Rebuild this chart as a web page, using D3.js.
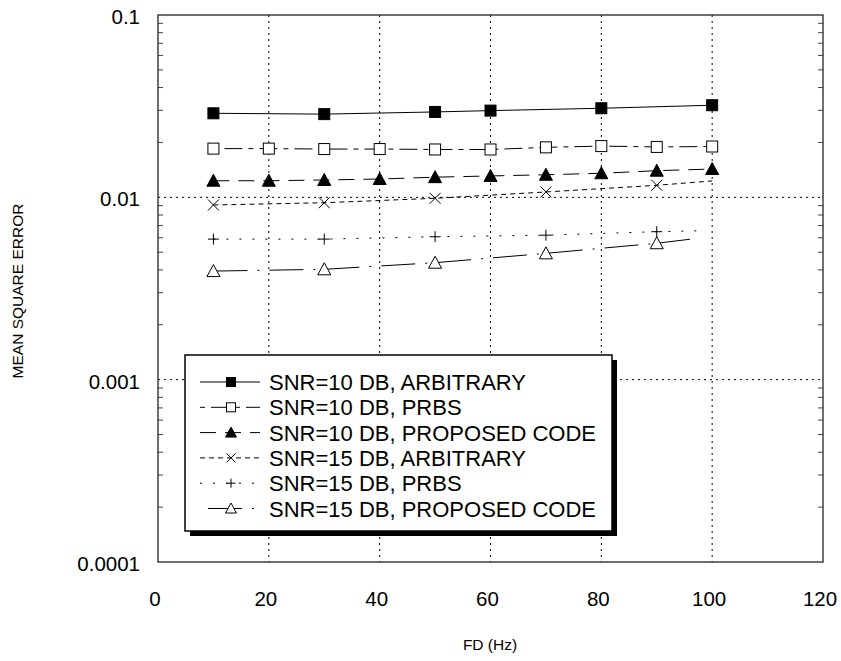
<!DOCTYPE html>
<html>
<head>
<meta charset="utf-8">
<script src="https://cdn.jsdelivr.net/npm/d3@7"></script>
<style>
  body { margin: 0; background: #fff; }
  text { font-family: "Liberation Sans", Arial, sans-serif; fill: #000; }
</style>
</head>
<body>
<svg id="canvas" width="841" height="661"></svg>
<script>
// values
let xTicks = [0, 20, 40, 60, 80, 100, 120];
let yTicks = [0.1, 0.01, 0.001, 0.0001];
let yTickLabels = ['0.1', '0.01', '0.001', '0.0001'];

let names = ['SNR=10 DB, ARBITRARY', 'SNR=10 DB, PRBS', 'SNR=10 DB, PROPOSED CODE',
             'SNR=15 DB, ARBITRARY', 'SNR=15 DB, PRBS', 'SNR=15 DB, PROPOSED CODE'];

let s1x = [10, 30, 50, 60, 80, 100];
let s1y = [0.0289, 0.0286, 0.0294, 0.0299, 0.0308, 0.0320];
let s2x = [10, 20, 30, 40, 50, 60, 70, 80, 90, 100];
let s2y = [0.0185, 0.0185, 0.0184, 0.0184, 0.0183, 0.0183, 0.0188, 0.0191, 0.0189, 0.0190];
let s3x = [10, 20, 30, 40, 50, 60, 70, 80, 90, 100];
let s3y = [0.01233, 0.01233, 0.01245, 0.0126, 0.0129, 0.0131, 0.0133, 0.01355, 0.0140, 0.0143];
let s4x = [10, 30, 50, 70, 90, 100];
let s4y = [0.00908, 0.00934, 0.00988, 0.0107, 0.01164, 0.0123];
let s5x = [10, 30, 50, 70, 90, 98];
let s5y = [0.0059, 0.0059, 0.00608, 0.0062, 0.00648, 0.00656];
let s6x = [10, 30, 50, 70, 90, 96];
let s6y = [0.00394, 0.00403, 0.00438, 0.00493, 0.0056, 0.00589];
// points that carry a marker (last points of the 15 dB curves have none)
let marked = [s1x, s2x, s3x, [10, 30, 50, 70, 90], [10, 30, 50, 70, 90], [10, 30, 50, 70, 90]];

let xs = [s1x, s2x, s3x, s4x, s5x, s6x];
let ys = [s1y, s2y, s3y, s4y, s5y, s6y];
let dashes = ['none', '5,6,18,6', '16,9', '5,4', '2,11', '34,10,2,10'];
let legendOffset = [0, 0, 0, 0, 0, 48];
let shapes = ['squareF', 'squareO', 'triF', 'cross', 'plus', 'triO'];

let canvas = d3.select('#canvas');
let L = 158, R = 823, T = 15, B = 562;

let x = d3.scaleLinear().domain([0, 120]).range([L, R]);
let y = d3.scaleLog().domain([0.0001, 0.1]).range([B, T]);

// grid
canvas.append('g').selectAll('line')
  .data(xTicks.slice(1, -1))
  .enter().append('line')
  .attr('x1', d => x(d)).attr('x2', d => x(d))
  .attr('y1', T).attr('y2', B)
  .attr('stroke', '#000').attr('stroke-width', 1).attr('stroke-dasharray', '2,4');
canvas.append('g').selectAll('line')
  .data([0.01, 0.001])
  .enter().append('line')
  .attr('x1', L).attr('x2', R)
  .attr('y1', d => y(d)).attr('y2', d => y(d))
  .attr('stroke', '#000').attr('stroke-width', 1).attr('stroke-dasharray', '2,4');

// minor ticks, inward on both sides
let minor = [];
[0.0001, 0.001, 0.01].forEach(d => { for (let k = 2; k <= 9; k++) minor.push(d * k); });
[L, R].forEach(side => {
  let dir = side === L ? 1 : -1;
  canvas.append('g').selectAll('line')
    .data(minor)
    .enter().append('line')
    .attr('x1', side).attr('x2', side + dir * 5)
    .attr('y1', d => y(d)).attr('y2', d => y(d))
    .attr('stroke', '#444').attr('stroke-width', 1);
});

// frame
canvas.append('rect')
  .attr('x', L).attr('y', T).attr('width', R - L).attr('height', B - T)
  .attr('fill', 'none').attr('stroke', '#222').attr('stroke-width', 1.3);

// tick labels
canvas.append('g').selectAll('text')
  .data(yTicks)
  .enter().append('text')
  .attr('x', L - 18).attr('y', d => y(d) + 9)
  .attr('text-anchor', 'end').attr('font-size', 20.5)
  .text((d, i) => yTickLabels[i]);
canvas.append('g').selectAll('text')
  .data(xTicks)
  .enter().append('text')
  .attr('x', d => x(d) - 3).attr('y', 606)
  .attr('text-anchor', 'middle').attr('font-size', 20.5)
  .text(d => d);

canvas.append('text')
  .attr('transform', 'translate(23,291) rotate(-90)')
  .attr('text-anchor', 'middle').attr('font-size', 15.5)
  .text('MEAN SQUARE ERROR');
canvas.append('text')
  .attr('x', 490).attr('y', 650)
  .attr('text-anchor', 'middle').attr('font-size', 15.5)
  .text('FD (Hz)');

function marker(g, shape, cx, cy, s) {
  let h = s / 2;
  if (shape === 'squareF' || shape === 'squareO') {
    g.append('rect').attr('x', cx - h).attr('y', cy - h).attr('width', s).attr('height', s)
      .attr('fill', shape === 'squareF' ? '#000' : '#fff')
      .attr('stroke', '#000').attr('stroke-width', 1);
  } else if (shape === 'triF' || shape === 'triO') {
    g.append('path')
      .attr('d', `M${cx},${cy - h - 1}L${cx + h + 1},${cy + h}L${cx - h - 1},${cy + h}Z`)
      .attr('fill', shape === 'triF' ? '#000' : '#fff')
      .attr('stroke', '#000').attr('stroke-width', 1);
  } else if (shape === 'cross') {
    g.append('path')
      .attr('d', `M${cx - h},${cy - h}L${cx + h},${cy + h}M${cx - h},${cy + h}L${cx + h},${cy - h}`)
      .attr('stroke', '#000').attr('stroke-width', 1);
  } else {
    g.append('path')
      .attr('d', `M${cx - h},${cy}L${cx + h},${cy}M${cx},${cy - h}L${cx},${cy + h}`)
      .attr('stroke', '#000').attr('stroke-width', 1);
  }
}

let line = d3.line().x(d => x(d[0])).y(d => y(d[1]));

xs.forEach((sx, i) => {
  let pts = sx.map((v, j) => [v, ys[i][j]]);
  let g = canvas.append('g');
  g.append('path')
    .attr('d', line(pts))
    .attr('fill', 'none').attr('stroke', '#000').attr('stroke-width', 1)
    .attr('stroke-dasharray', dashes[i]);
  pts.filter(p => marked[i].includes(p[0]))
    .forEach(p => marker(g, shapes[i], x(p[0]), y(p[1]), 11));
});

// legend
let lg = canvas.append('g');
let lx = 185, ly = 355, lw = 427, lh = 176;
lg.append('rect').attr('x', lx + 5).attr('y', ly + 5).attr('width', lw).attr('height', lh).attr('fill', '#000');
lg.append('rect').attr('x', lx).attr('y', ly).attr('width', lw).attr('height', lh)
  .attr('fill', '#fff').attr('stroke', '#000').attr('stroke-width', 1.5);

names.forEach((n, i) => {
  let ry = 382 + i * 25.3;
  lg.append('line')
    .attr('x1', 200).attr('x2', 260).attr('y1', ry).attr('y2', ry)
    .attr('stroke', '#000').attr('stroke-width', 1)
    .attr('stroke-dasharray', dashes[i])
    .attr('stroke-dashoffset', legendOffset[i]);
  marker(lg, shapes[i], 231, ry, 9);
  lg.append('text')
    .attr('x', 269).attr('y', ry + 8)
    .attr('font-size', 22)
    .text(n);
});
</script>
</body>
</html>
